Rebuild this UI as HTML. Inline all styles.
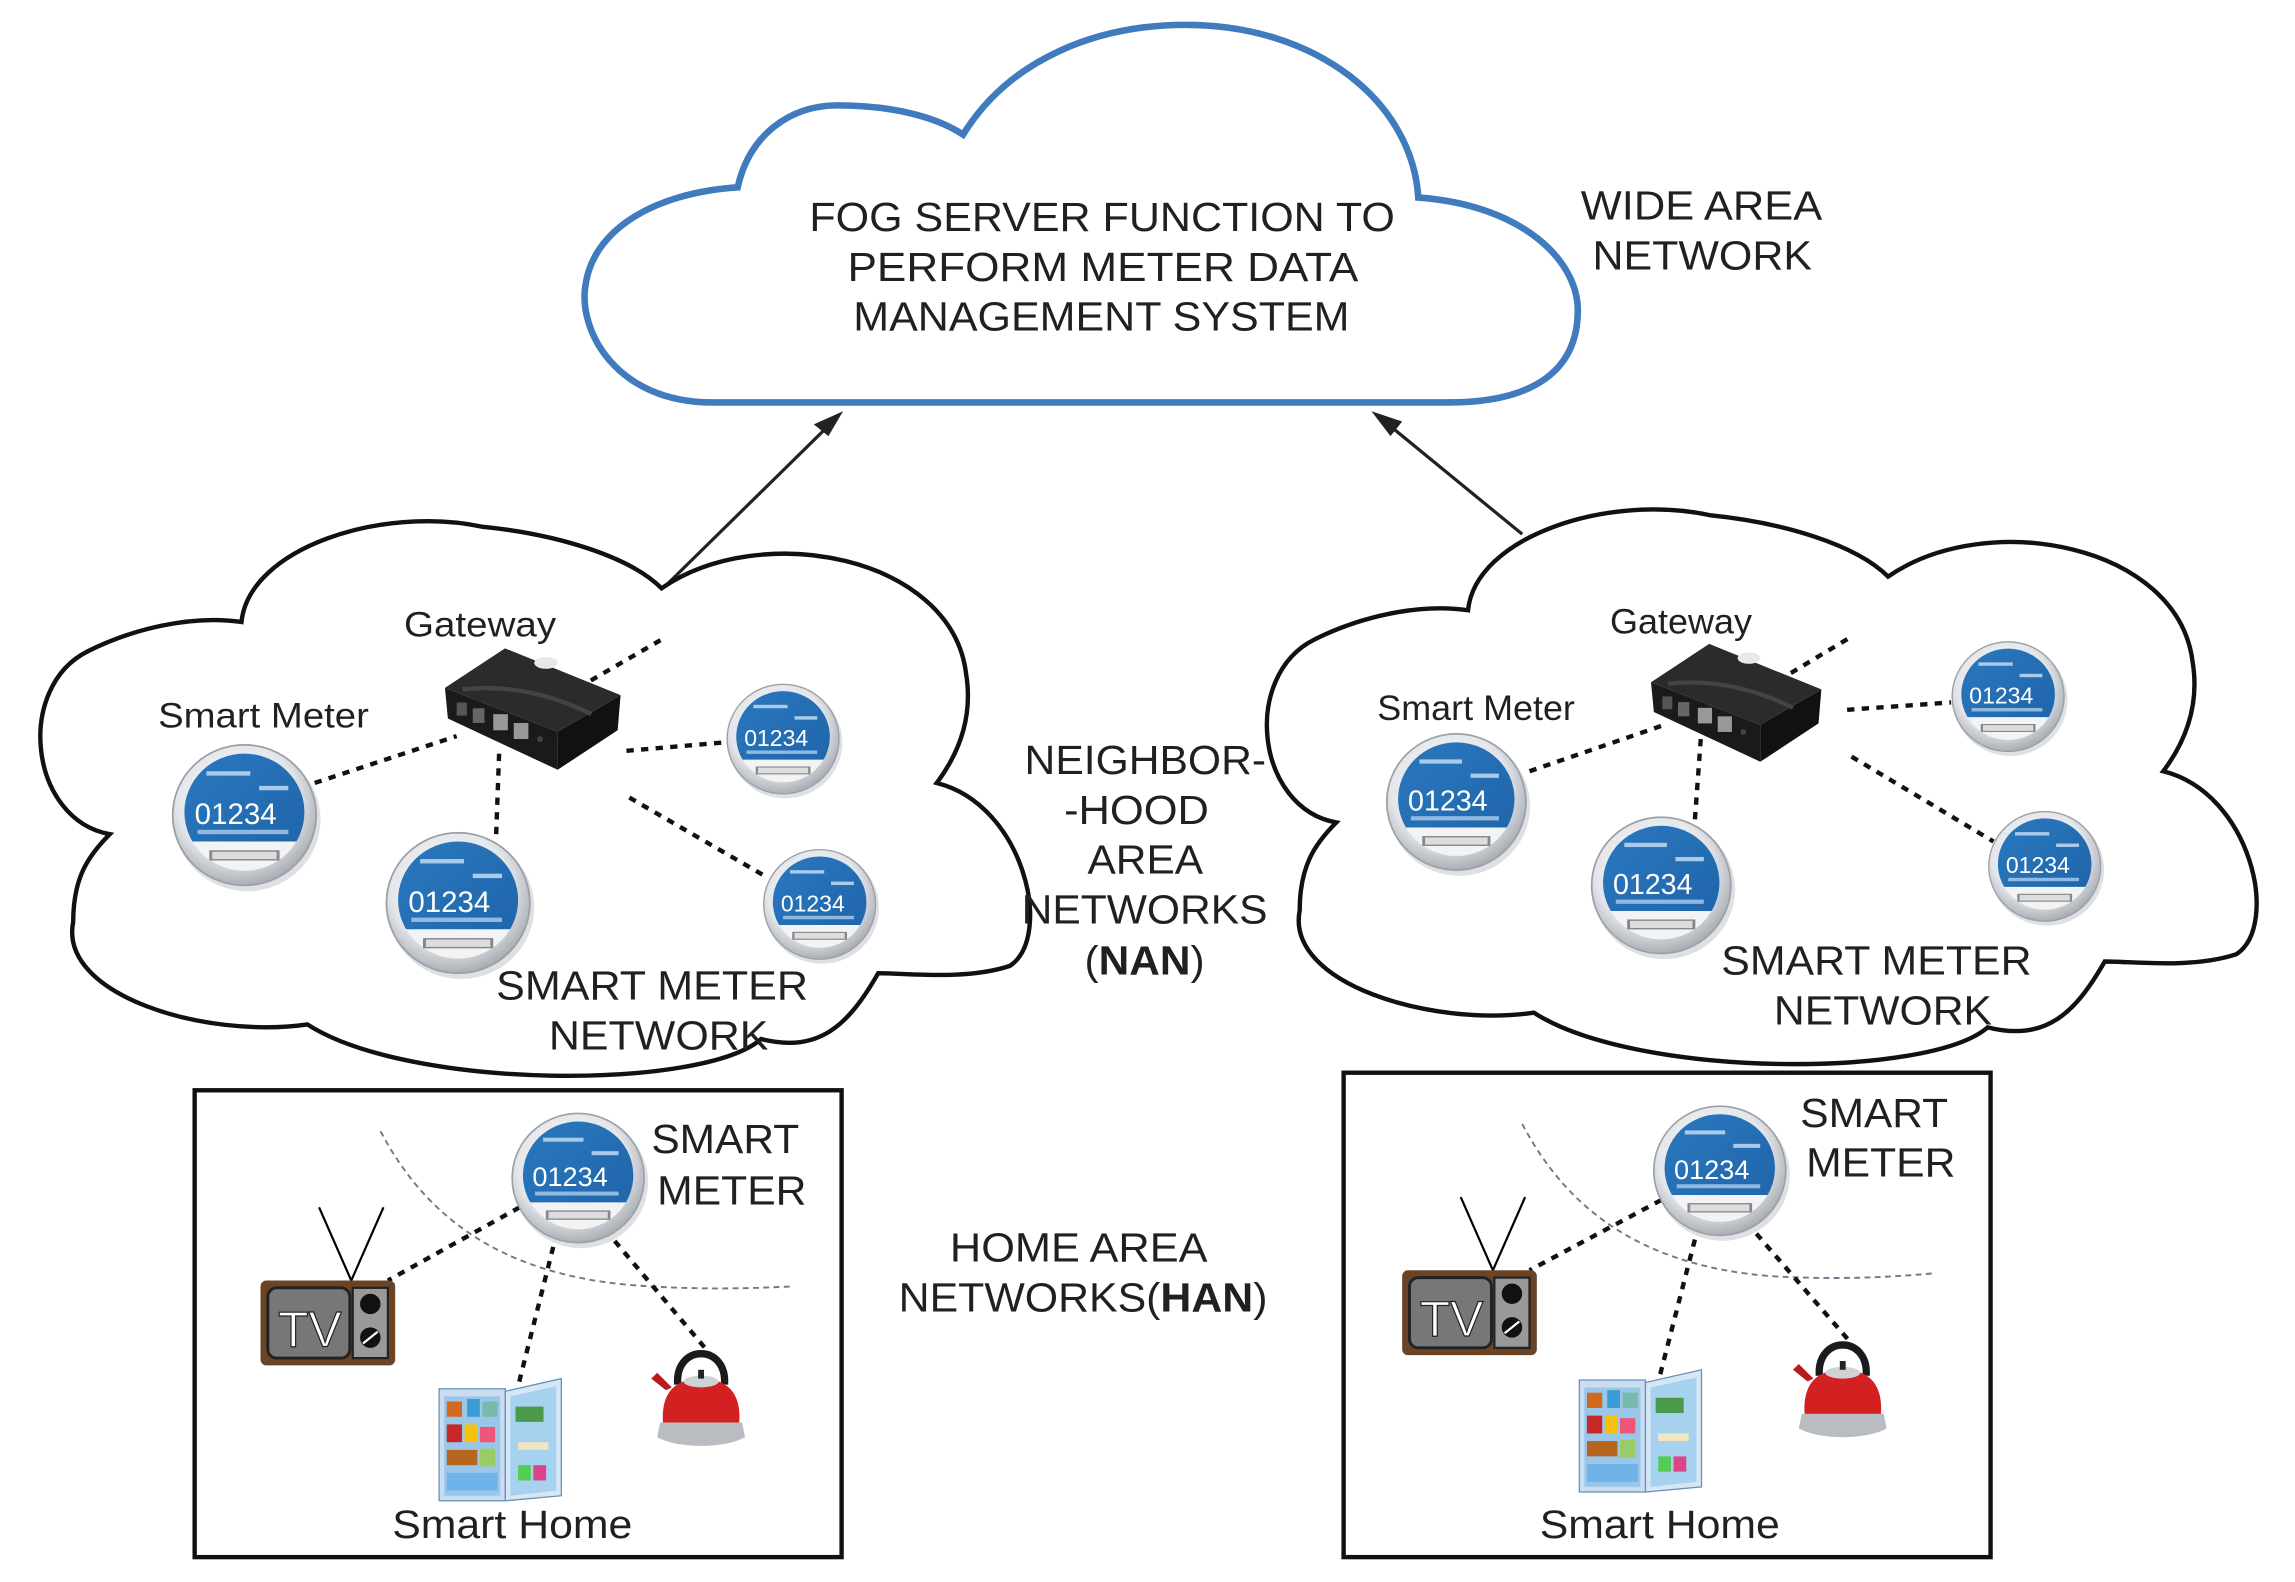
<!DOCTYPE html>
<html><head><meta charset="utf-8"><style>
html,body{margin:0;padding:0;background:#fff;}
svg{display:block;}
text{font-family:"Liberation Sans Narrow","Liberation Sans",sans-serif;fill:#231f20;}
</style></head><body>
<svg width="2295" height="1582" viewBox="0 0 1568 1081" preserveAspectRatio="none" xmlns="http://www.w3.org/2000/svg">
<defs>
<radialGradient id="rim" cx="45%" cy="40%" r="60%"><stop offset="0" stop-color="#ffffff"/><stop offset="0.7" stop-color="#e3e6ea"/><stop offset="1" stop-color="#a9afb5"/></radialGradient>
<linearGradient id="scr" x1="0" y1="0" x2="1" y2="1"><stop offset="0" stop-color="#2a78bf"/><stop offset="1" stop-color="#1f63a8"/></linearGradient>
<clipPath id="scrclip"><rect x="-50" y="-50" width="100" height="68"/></clipPath>
<g id="m">
 <ellipse cx="2" cy="3" rx="50" ry="49" fill="#c8ccd0" opacity="0.6"/>
 <ellipse cx="0" cy="0" rx="49" ry="48" fill="url(#rim)" stroke="#9aa0a6" stroke-width="1.2"/>
 <ellipse cx="0" cy="-2" rx="41" ry="40" fill="#f2f3f4"/>
 <ellipse cx="0" cy="-2" rx="41" ry="40" fill="url(#scr)" clip-path="url(#scrclip)"/>
 <rect x="-24" y="24" width="48" height="7" fill="#888"/>
 <rect x="-22" y="25" width="44" height="5" fill="#ddd"/>
 <rect x="-26" y="-30" width="30" height="3" fill="#a9cbe9"/>
 <rect x="10" y="-20" width="20" height="3" fill="#a9cbe9"/>
 <rect x="-32" y="10" width="62" height="3" fill="#8fb9e0"/>
</g>
<g id="gw">
 <polygon points="0,27 77,57 77,83 2,48" fill="#1a1a1a"/>
 <polygon points="77,57 120,32 118,56 77,83" fill="#111"/>
 <polygon points="0,27 41,0 120,32 77,57" fill="#2b2b2d"/>
 <path d="M12,28 C40,25 70,30 100,45" stroke="#444" stroke-width="3" fill="none"/>
 <ellipse cx="69" cy="10" rx="8" ry="4" fill="#e8e8ea"/>
 <rect x="8" y="37" width="7" height="9" fill="#555"/>
 <rect x="19" y="41" width="8" height="10" fill="#666"/>
 <rect x="33" y="45" width="10" height="11" fill="#999"/>
 <rect x="47" y="51" width="10" height="11" fill="#999"/>
 <circle cx="65" cy="62" r="2" fill="#444"/>
</g>
<g id="tv">
 <line x1="40" y1="0" x2="62" y2="50" stroke="#000" stroke-width="1.5"/>
 <line x1="84" y1="0" x2="62" y2="50" stroke="#000" stroke-width="1.5"/>
 <rect x="0" y="50" width="92" height="58" rx="4" fill="#6b4426"/>
 <rect x="5" y="55" width="56" height="48" rx="6" fill="#777" stroke="#222" stroke-width="2"/>
 <rect x="63" y="55" width="24" height="48" fill="#999" stroke="#222" stroke-width="1.5"/>
 <circle cx="75" cy="66" r="7" fill="#111"/>
 <circle cx="75" cy="89" r="7" fill="#111"/>
 <line x1="70" y1="93" x2="80" y2="85" stroke="#fff" stroke-width="1.5"/>
</g>
<g id="fr">
 <rect x="0" y="8" width="52" height="88" fill="#c9dcf0" stroke="#6a8fb8"/>
 <rect x="4" y="14" width="44" height="78" fill="#9ac6ea"/>
 <rect x="6" y="18" width="12" height="12" fill="#d2691e"/><rect x="22" y="16" width="10" height="14" fill="#3a9bd5"/><rect x="34" y="18" width="12" height="12" fill="#7ba"/>
 <rect x="6" y="36" width="12" height="14" fill="#c62828"/><rect x="20" y="36" width="10" height="14" fill="#f4c20d"/><rect x="32" y="38" width="12" height="12" fill="#e57"/>
 <rect x="6" y="56" width="24" height="12" fill="#b5651d"/><rect x="32" y="55" width="12" height="14" fill="#9c6"/>
 <rect x="6" y="74" width="40" height="14" fill="#6fb3e8"/>
 <polygon points="52,10 96,0 96,92 52,96" fill="#d5e6f6" stroke="#6a8fb8"/>
 <polygon points="56,14 92,6 92,88 56,92" fill="#a6d1ef"/>
 <rect x="60" y="22" width="22" height="12" fill="#4a9a4a"/><rect x="62" y="50" width="24" height="6" fill="#f0e6c0"/><rect x="62" y="68" width="10" height="12" fill="#5c5"/><rect x="74" y="68" width="10" height="12" fill="#d48"/>
</g>
<g id="ke">
 <path d="M18,28 C16,0 52,0 50,28" stroke="#1b1b1b" stroke-width="5" fill="none"/>
 <path d="M10,32 L0,24 L4,20 L14,30 Z" fill="#b71c1c"/>
 <path d="M8,55 C6,30 20,24 34,24 C50,24 62,32 60,55 Z" fill="#d32020"/>
 <ellipse cx="34" cy="26" rx="12" ry="4" fill="#cfd2d5"/>
 <rect x="32" y="18" width="4" height="6" fill="#222"/>
 <path d="M6,54 L62,54 L64,64 C50,72 18,72 4,64 Z" fill="#b9bcc0"/>
</g>
</defs>

<path d="M487 275 C420 275 395 225 400 195 C405 158 445 132 504 128 C512 92 540 72 572 72 C610 72 640 80 658 92 C690 40 750 17 810 17 C900 17 965 70 969 135 C1040 140 1078 178 1078 212 C1078 255 1045 275 990 275 Z" fill="#fff" stroke="#3f7bbd" stroke-width="4.5"/>
<text x="553" y="158" font-size="28" textLength="400" lengthAdjust="spacingAndGlyphs">FOG SERVER FUNCTION TO</text>
<text x="579" y="192" font-size="28" textLength="349" lengthAdjust="spacingAndGlyphs">PERFORM  METER DATA</text>
<text x="583" y="226" font-size="28" textLength="339" lengthAdjust="spacingAndGlyphs">MANAGEMENT SYSTEM</text>
<text x="1080" y="150" font-size="28" textLength="165" lengthAdjust="spacingAndGlyphs">WIDE AREA</text>
<text x="1088" y="184" font-size="28" textLength="150" lengthAdjust="spacingAndGlyphs">NETWORK</text>

<line x1="452" y1="403" x2="568" y2="289" stroke="#222" stroke-width="2.2"/>
<polygon points="576,281 556,290 566,298" fill="#222"/>
<line x1="1040" y1="365" x2="946" y2="288" stroke="#222" stroke-width="2.2"/>
<polygon points="937,281 950,298 958,288" fill="#222"/>

<path d="M165 425 C170 375 260 345 330 360 C380 365 430 380 452 402 C520 355 650 380 660 460 C665 490 655 515 640 535 C700 550 720 640 690 660 C660 670 620 665 600 665 C580 700 560 720 520 710 C480 745 280 745 210 700 C140 710 40 680 50 630 C50 600 60 585 75 570 C20 560 10 470 60 445 C90 430 130 420 165 425 Z" fill="#fff" stroke="#111" stroke-width="3"/>
<path transform="translate(838,-8)" d="M165 425 C170 375 260 345 330 360 C380 365 430 380 452 402 C520 355 650 380 660 460 C665 490 655 515 640 535 C700 550 720 640 690 660 C660 670 620 665 600 665 C580 700 560 720 520 710 C480 745 280 745 210 700 C140 710 40 680 50 630 C50 600 60 585 75 570 C20 560 10 470 60 445 C90 430 130 420 165 425 Z" fill="#fff" stroke="#111" stroke-width="3"/>

<g stroke="#111" stroke-width="3" stroke-dasharray="5,5" fill="none">
<line x1="215" y1="535" x2="312" y2="503"/>
<line x1="341" y1="515" x2="339" y2="570"/>
<line x1="395" y1="470" x2="452" y2="437"/>
<line x1="428" y1="513" x2="498" y2="507"/>
<line x1="430" y1="545" x2="525" y2="600"/>
<line x1="1045" y1="527" x2="1138" y2="495"/>
<line x1="1162" y1="505" x2="1158" y2="560"/>
<line x1="1215" y1="465" x2="1265" y2="435"/>
<line x1="1262" y1="485" x2="1333" y2="480"/>
<line x1="1265" y1="517" x2="1362" y2="575"/>
</g>

<use href="#gw" x="304" y="443"/>
<use href="#gw" transform="translate(1128,440) scale(0.97)"/>

<g transform="translate(167,557)"><use href="#m"/><text x="-34" y="6" font-size="20" style="fill:#fff" textLength="56" lengthAdjust="spacingAndGlyphs">01234</text></g>
<g transform="translate(313,617)"><use href="#m"/><text x="-34" y="6" font-size="20" style="fill:#fff" textLength="56" lengthAdjust="spacingAndGlyphs">01234</text></g>
<g transform="translate(535,505) scale(0.78)"><use href="#m"/><text x="-34" y="6" font-size="20" style="fill:#fff" textLength="56" lengthAdjust="spacingAndGlyphs">01234</text></g>
<g transform="translate(560,618) scale(0.78)"><use href="#m"/><text x="-34" y="6" font-size="20" style="fill:#fff" textLength="56" lengthAdjust="spacingAndGlyphs">01234</text></g>
<g transform="translate(995,548) scale(0.97)"><use href="#m"/><text x="-34" y="6" font-size="20" style="fill:#fff" textLength="56" lengthAdjust="spacingAndGlyphs">01234</text></g>
<g transform="translate(1135,605) scale(0.97)"><use href="#m"/><text x="-34" y="6" font-size="20" style="fill:#fff" textLength="56" lengthAdjust="spacingAndGlyphs">01234</text></g>
<g transform="translate(1372,476) scale(0.78)"><use href="#m"/><text x="-34" y="6" font-size="20" style="fill:#fff" textLength="56" lengthAdjust="spacingAndGlyphs">01234</text></g>
<g transform="translate(1397,592) scale(0.78)"><use href="#m"/><text x="-34" y="6" font-size="20" style="fill:#fff" textLength="56" lengthAdjust="spacingAndGlyphs">01234</text></g>

<text x="276" y="435" font-size="24" textLength="104" lengthAdjust="spacingAndGlyphs">Gateway</text>
<text x="1100" y="433" font-size="24" textLength="97" lengthAdjust="spacingAndGlyphs">Gateway</text>
<text x="108" y="497" font-size="24" textLength="144" lengthAdjust="spacingAndGlyphs">Smart Meter</text>
<text x="941" y="492" font-size="24" textLength="135" lengthAdjust="spacingAndGlyphs">Smart Meter</text>
<text x="339" y="683" font-size="28" textLength="213" lengthAdjust="spacingAndGlyphs">SMART METER</text>
<text x="375" y="717" font-size="28" textLength="150" lengthAdjust="spacingAndGlyphs">NETWORK</text>
<text x="1176" y="666" font-size="28" textLength="212" lengthAdjust="spacingAndGlyphs">SMART METER</text>
<text x="1212" y="700" font-size="28" textLength="149" lengthAdjust="spacingAndGlyphs">NETWORK</text>

<text x="700" y="529" font-size="28" textLength="165" lengthAdjust="spacingAndGlyphs">NEIGHBOR-</text>
<text x="727" y="563" font-size="28" textLength="99" lengthAdjust="spacingAndGlyphs">-HOOD</text>
<text x="743" y="597" font-size="28" textLength="79" lengthAdjust="spacingAndGlyphs">AREA</text>
<text x="698" y="631" font-size="28" textLength="168" lengthAdjust="spacingAndGlyphs">NETWORKS</text>
<text x="741" y="666" font-size="28" textLength="82" lengthAdjust="spacingAndGlyphs">(<tspan font-weight="bold">NAN</tspan>)</text>

<text x="649" y="862" font-size="28" textLength="176" lengthAdjust="spacingAndGlyphs">HOME AREA</text>
<text x="614" y="896" font-size="28" textLength="252" lengthAdjust="spacingAndGlyphs">NETWORKS(<tspan font-weight="bold">HAN</tspan>)</text>

<rect x="133" y="745" width="442" height="319" fill="#fff" stroke="#111" stroke-width="3"/>
<rect x="918" y="733" width="442" height="331" fill="#fff" stroke="#111" stroke-width="3"/>
<g stroke="#6b7a8a" stroke-width="1.3" stroke-dasharray="4,3" fill="none">
<path d="M260 773 C290 830 340 870 430 878 C480 882 520 880 542 879"/>
<path d="M1040 768 C1070 825 1120 865 1210 872 C1260 875 1300 872 1322 870"/>
</g>
<g stroke="#111" stroke-width="3" stroke-dasharray="5,5" fill="none">
<line x1="355" y1="825" x2="265" y2="875"/>
<line x1="378" y1="852" x2="352" y2="955"/>
<line x1="420" y1="848" x2="485" y2="925"/>
<line x1="1135" y1="820" x2="1045" y2="868"/>
<line x1="1158" y1="847" x2="1132" y2="948"/>
<line x1="1200" y1="843" x2="1265" y2="918"/>
</g>
<use href="#tv" x="178" y="825"/>
<use href="#tv" x="958" y="818"/>
<text x="190" y="920" font-size="34" style="fill:#fff;stroke:#222;stroke-width:0.8">TV</text>
<text x="970" y="913" font-size="34" style="fill:#fff;stroke:#222;stroke-width:0.8">TV</text>
<use href="#fr" transform="translate(300,942) scale(0.87)"/>
<use href="#fr" transform="translate(1079,936) scale(0.87)"/>
<use href="#ke" x="445" y="918"/>
<use href="#ke" x="1225" y="912"/>
<g transform="translate(395,805) scale(0.92)"><use href="#m"/><text x="-34" y="6" font-size="20" style="fill:#fff" textLength="56" lengthAdjust="spacingAndGlyphs">01234</text></g>
<g transform="translate(1175,800) scale(0.92)"><use href="#m"/><text x="-34" y="6" font-size="20" style="fill:#fff" textLength="56" lengthAdjust="spacingAndGlyphs">01234</text></g>
<text x="445" y="788" font-size="28" textLength="101" lengthAdjust="spacingAndGlyphs">SMART</text>
<text x="449" y="823" font-size="28" textLength="102" lengthAdjust="spacingAndGlyphs">METER</text>
<text x="1230" y="770" font-size="28" textLength="101" lengthAdjust="spacingAndGlyphs">SMART</text>
<text x="1234" y="804" font-size="28" textLength="102" lengthAdjust="spacingAndGlyphs">METER</text>
<text x="268" y="1051" font-size="27" textLength="164" lengthAdjust="spacingAndGlyphs">Smart Home</text>
<text x="1052" y="1051" font-size="27" textLength="164" lengthAdjust="spacingAndGlyphs">Smart Home</text>
</svg>
</body></html>
